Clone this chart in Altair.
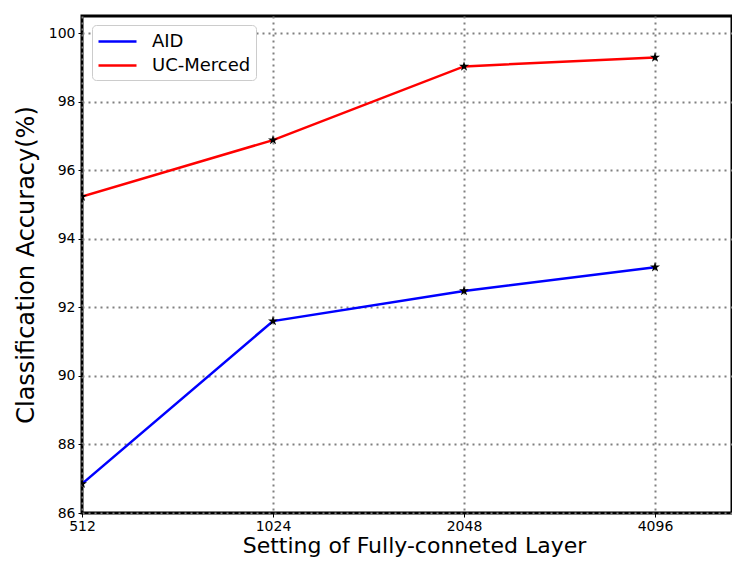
import json
import altair as alt
import pandas as pd

sizes = ["512", "1024", "2048", "4096"]
aid = [86.85, 91.6, 92.48, 93.17]
ucm = [95.23, 96.88, 99.03, 99.29]
series = ["AID", "UC-Merced"]
colors = ["#0000ff", "#ff0000"]

rows = []
for name, vals in zip(series, [aid, ucm]):
    for i, (s, v) in enumerate(zip(sizes, vals)):
        rows.append({"idx": i, "size": s, "acc": v, "series": name})
df = pd.DataFrame(rows)

label_expr = json.dumps(sizes) + "[datum.value]"

star = ("M0,-1L0.2245,-0.309L0.951,-0.309L0.363,0.118L0.588,0.809L0,0.382"
        "L-0.588,0.809L-0.363,0.118L-0.951,-0.309L-0.2245,-0.309Z")
legend_line = "M-1,0H2.8"

x = alt.X("idx:Q",
          scale=alt.Scale(domain=[0, 3.403], nice=False, zero=False),
          axis=alt.Axis(values=[0, 1, 2, 3], labelExpr=label_expr,
                        labelFlush=False,
                        title="Setting of Fully-conneted Layer",
                        titleX=332, titleAlign="center"))
y = alt.Y("acc:Q",
          scale=alt.Scale(domain=[86, 100.5], nice=False, zero=False),
          axis=alt.Axis(values=[86, 88, 90, 92, 94, 96, 98, 100],
                        labelFlush=False,
                        title="Classification Accuracy(%)"))

base = alt.Chart(df)
lines = base.mark_line(strokeWidth=2.5, clip=True).encode(
    x=x, y=y,
    color=alt.Color("series:N", scale=alt.Scale(domain=series, range=colors),
                    legend=alt.Legend(title=None, orient="none",
                                      legendX=10, legendY=9,
                                      symbolType=legend_line,
                                      symbolStrokeWidth=2.5,
                                      symbolSize=400, labelFontSize=18,
                                      labelFont="DejaVu Sans",
                                      labelColor="black",
                                      labelOffset=32,
                                      strokeColor="#cccccc", cornerRadius=4,
                                      padding=5, fillColor="white",
                                      rowPadding=3)),
)
pts = base.mark_point(shape=star, filled=True, color="black", size=110,
                      opacity=1, clip=True).encode(x=x, y=y)

chart = (lines + pts).properties(
    width=650, height=497,
    autosize=alt.AutoSizeParams(type="none"),
    padding={"left": 74, "top": 8, "right": 0, "bottom": 47},
).configure_view(
    stroke="black", strokeWidth=3
).configure_axis(
    grid=True, gridColor="#808080", gridDash=[2, 4], gridWidth=2,
    gridOpacity=1,
    domain=False, ticks=True, tickColor="black", tickSize=4, tickWidth=1,
    labelFont="DejaVu Sans", labelFontSize=14, labelColor="black",
    titleFont="DejaVu Sans", titleFontSize=24, titleFontWeight="normal",
    titleColor="black",
).configure_axisY(
    titlePadding=10, labelPadding=3
).configure_axisX(
    titlePadding=2, labelPadding=2, titleFontSize=22
)

chart.save("out.html", embed_options={"renderer": "svg", "actions": False})
